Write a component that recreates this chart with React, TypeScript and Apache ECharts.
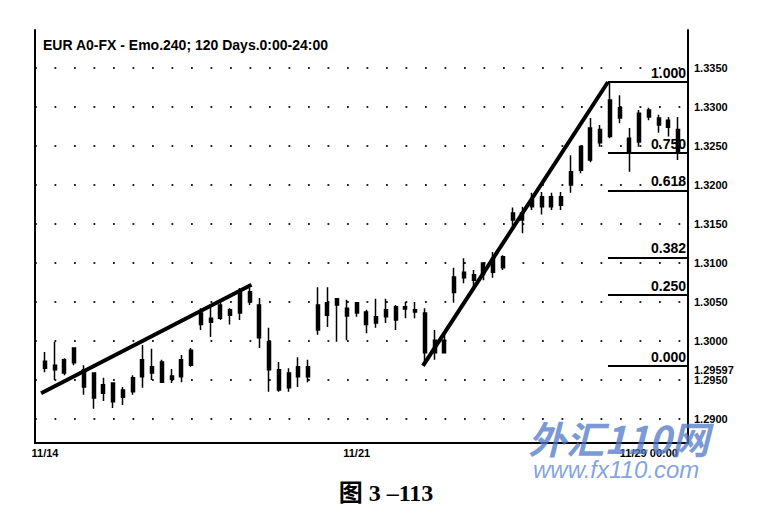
import React, { useEffect, useRef } from 'react';
import * as echarts from 'echarts';

const titleText = 'EUR A0-FX - Emo.240; 120 Days.0:00-24:00';

const opens = [
  1.2965, 1.2969, 1.2959, 1.2972, 1.2963, 1.2959, 1.2933, 1.2946, 1.2928, 1.2935,
  1.2954, 1.2967, 1.2973, 1.2951, 1.2954, 1.2969, 1.3021, 1.3029, 1.3029, 1.3040,
  1.3036, 1.3050, 1.3046, 1.2999, 1.2963, 1.2940, 1.2954, 1.2954, 1.3014, 1.3049,
  1.3046, 1.3042, 1.3036, 1.3037, 1.3023, 1.3031, 1.3044, 1.3041, 1.3040, 1.3036,
  1.2985, 1.2985, 1.3062, 1.3088, 1.3078, 1.3085, 1.3088, 1.3094, 1.3155, 1.3164,
  1.3172, 1.3172, 1.3185, 1.3174, 1.3200, 1.3219, 1.3232, 1.3271, 1.3262, 1.3299,
  1.3260, 1.3255, 1.3296, 1.3286, 1.3283, 1.3271,
];
const closes = [
  1.2974, 1.2963, 1.2976, 1.2991, 1.2941, 1.2927, 1.2944, 1.2922, 1.2937, 1.2953,
  1.2976, 1.2959, 1.2947, 1.2955, 1.2976, 1.2988, 1.3036, 1.3024, 1.3046, 1.3033,
  1.3062, 1.3063, 1.3004, 1.2963, 1.2937, 1.2959, 1.2967, 1.2967, 1.3046, 1.3033,
  1.3054, 1.3032, 1.3049, 1.3021, 1.3031, 1.3040, 1.3027, 1.3044, 1.3037, 1.2985,
  1.3001, 1.3001, 1.3082, 1.3081, 1.3085, 1.3100, 1.3106, 1.3108, 1.3164, 1.3155,
  1.3181, 1.3185, 1.3172, 1.3185, 1.3217, 1.3249, 1.3273, 1.3254, 1.3309, 1.3286,
  1.3242, 1.3292, 1.3287, 1.3277, 1.3274, 1.3242,
];
const lows = [
  1.2960, 1.2950, 1.2956, 1.2969, 1.2931, 1.2913, 1.2923, 1.2914, 1.2918, 1.2931,
  1.2940, 1.2950, 1.2946, 1.2946, 1.2947, 1.2967, 1.3014, 1.3005, 1.3027, 1.3021,
  1.3027, 1.3046, 1.2991, 1.2935, 1.2935, 1.2935, 1.2941, 1.2947, 1.3008, 1.3018,
  1.2999, 1.3001, 1.3031, 1.3010, 1.3017, 1.3023, 1.3014, 1.3029, 1.3029, 1.2969,
  1.2976, 1.2985, 1.3049, 1.3074, 1.3069, 1.3078, 1.3081, 1.3091, 1.3142, 1.3138,
  1.3168, 1.3162, 1.3168, 1.3168, 1.3190, 1.3215, 1.3229, 1.3249, 1.3260, 1.3279,
  1.3217, 1.3249, 1.3283, 1.3267, 1.3262, 1.3232,
];
const highs = [
  1.2986, 1.2999, 1.2978, 1.2992, 1.2969, 1.2960, 1.2953, 1.2947, 1.2941, 1.2956,
  1.2995, 1.2990, 1.2976, 1.2964, 1.2982, 1.2991, 1.3042, 1.3046, 1.3050, 1.3042,
  1.3068, 1.3068, 1.3055, 1.3017, 1.2973, 1.2965, 1.2979, 1.2976, 1.3069, 1.3069,
  1.3055, 1.3053, 1.3050, 1.3040, 1.3054, 1.3054, 1.3046, 1.3050, 1.3050, 1.3042,
  1.3014, 1.3008, 1.3094, 1.3106, 1.3091, 1.3101, 1.3114, 1.3110, 1.3171, 1.3172,
  1.3190, 1.3191, 1.3190, 1.3191, 1.3238, 1.3251, 1.3286, 1.3277, 1.3331, 1.3315,
  1.3273, 1.3296, 1.3299, 1.3290, 1.3287, 1.3287,
];

const xTickIdx = [0, 32, 62];
const xTickLabels = ['11/14', '11/21', '11/29 00:00'];

// trend lines: [barIndex, price]
const trend1 = [[-0.4, 1.2933], [21.2, 1.3072]];
const fibLow = 1.2968;
const fibHigh = 1.3332;
const fibLowIdx = 38.8;
const fibHighIdx = 57.8;
const fibRatios = [1, 0.75, 0.618, 0.382, 0.25, 0];
const fibLabels = ['1.000', '0.750', '0.618', '0.382', '0.250', '0.000'];
const lowMarkValue = 1.29597;
const lowMarkLabel = '1.29597';

const X_MIN = -1.027;
const X_MAX = 66.016;
const Y_MIN = 1.28692;
const Y_MAX = 1.33987;

const FONT = '"Liberation Sans", Arial, sans-serif';

export default function App() {
  const ref = useRef<HTMLDivElement>(null);
  useEffect(() => {
    if (!ref.current) return;
    const chart = echarts.init(ref.current, null, { renderer: 'svg' });
    const candleData = opens.map((o, i) => [i, o, closes[i], lows[i], highs[i]]);
    const fibLines = fibRatios.map((r, k) => {
      const v = fibLow + r * (fibHigh - fibLow);
      return [
        { coord: [fibHighIdx, v], name: fibLabels[k] },
        { coord: [X_MAX, v] },
      ];
    });
    const option: any = {
      animation: false,
      backgroundColor: '#fff',
      title: {
        text: titleText,
        left: 38,
        top: 33,
        textStyle: { fontFamily: FONT, fontSize: 14, fontWeight: 'bold', color: '#000' },
      },
      grid: { left: 35, right: 85, top: 30, bottom: 87 },
      xAxis: {
        type: 'value',
        min: X_MIN,
        max: X_MAX,
        axisLine: { show: true, onZero: false, lineStyle: { color: '#000', width: 2 } },
        axisTick: { show: false },
        splitLine: { show: false },
        axisLabel: {
          customValues: xTickIdx,
          formatter: (v: number) => {
            const k = xTickIdx.indexOf(Math.round(v));
            return k >= 0 ? xTickLabels[k] : '';
          },
          fontFamily: FONT,
          fontSize: 11,
          fontWeight: 'bold',
          color: '#000',
          margin: 4,
        },
      },
      yAxis: [
        {
          type: 'value',
          position: 'right',
          min: Y_MIN,
          max: Y_MAX,
          splitNumber: 10,
          axisLine: { show: true, onZero: false, lineStyle: { color: '#000', width: 2 } },
          axisTick: { show: false },
          axisLabel: {
            showMinLabel: false,
            showMaxLabel: false,
            formatter: (v: number) => v.toFixed(4),
            fontFamily: FONT,
            fontSize: 11,
            lineHeight: 10,
            fontWeight: 'bold',
            color: '#000',
            margin: 6,
          },
          splitLine: {
            show: true,
            showMinLine: false,
            showMaxLine: false,
            lineStyle: { type: [1.8, 17.7], color: '#222', width: 1.8 },
          },
        },
        {
          type: 'value',
          position: 'left',
          min: Y_MIN,
          max: Y_MAX,
          axisLine: { show: true, onZero: false, lineStyle: { color: '#000', width: 2 } },
          axisTick: { show: false },
          axisLabel: { show: false },
          splitLine: { show: false },
        },
      ],
      series: [
        {
          type: 'candlestick',
          data: candleData,
          encode: { x: 0, y: [1, 2, 3, 4] },
          barWidth: 3.5,
          itemStyle: {
            color: '#000',
            color0: '#000',
            borderColor: '#000',
            borderColor0: '#000',
            borderWidth: 1.5,
          },
          markLine: {
            silent: true,
            precision: 6,
            symbol: ['none', 'none'],
            lineStyle: { color: '#000', width: 2, type: 'solid' },
            label: {
              show: true,
              position: 'insideEndTop',
              formatter: '{b}',
              color: '#000',
              fontFamily: FONT,
              fontSize: 14,
              fontWeight: 'bold',
              distance: 2,
            },
            data: fibLines,
          },
        },
        {
          type: 'line',
          data: trend1,
          symbol: 'none',
          lineStyle: { color: '#000', width: 4 },
          z: 3,
        },
        {
          type: 'line',
          data: [[fibLowIdx, fibLow], [fibHighIdx, fibHigh]],
          symbol: 'none',
          lineStyle: { color: '#000', width: 4 },
          z: 3,
          markLine: {
            silent: true,
            precision: 6,
            symbol: ['none', 'none'],
            lineStyle: { color: 'rgba(0,0,0,0)', width: 1, type: 'solid' },
            label: {
              show: true,
              position: 'end',
              formatter: '{b}',
              color: '#000',
              fontFamily: FONT,
              fontSize: 11,
              lineHeight: 10,
              fontWeight: 'bold',
              distance: 6,
              offset: [0, -2],
            },
            data: [{ yAxis: lowMarkValue, name: lowMarkLabel }],
          },
        },
      ],
      graphic: [
        {
          type: 'text',
          x: 386,
          y: 493,
          style: {
            text: '图 3 –113',
            align: 'center',
            verticalAlign: 'middle',
            fontFamily: '"Liberation Serif", "Noto Sans CJK SC", serif',
            fontSize: 24,
            fontWeight: 'bold',
            fill: '#000',
          },
        },
        {
          type: 'text',
          x: 528,
          y: 437,
          z: 100,
          style: {
            text: '外汇110网',
            align: 'left',
            verticalAlign: 'middle',
            fontFamily: '"Noto Sans CJK SC", sans-serif',
            fontSize: 38,
            fontWeight: 'bold',
            fontStyle: 'italic',
            fill: 'rgba(80,120,200,0.75)',
          },
        },
        {
          type: 'text',
          x: 533,
          y: 469,
          z: 100,
          style: {
            text: 'www.fx110.com',
            align: 'left',
            verticalAlign: 'middle',
            fontFamily: FONT,
            fontSize: 24,
            fontStyle: 'italic',
            fill: 'rgba(100,140,215,0.8)',
          },
        },
      ],
    };
    chart.setOption(option);
    return () => chart.dispose();
  }, []);
  return (
    <div
      ref={ref}
      style={{ position: 'absolute', left: 0, top: 0, width: 773, height: 530, background: '#fff' }}
    />
  );
}
